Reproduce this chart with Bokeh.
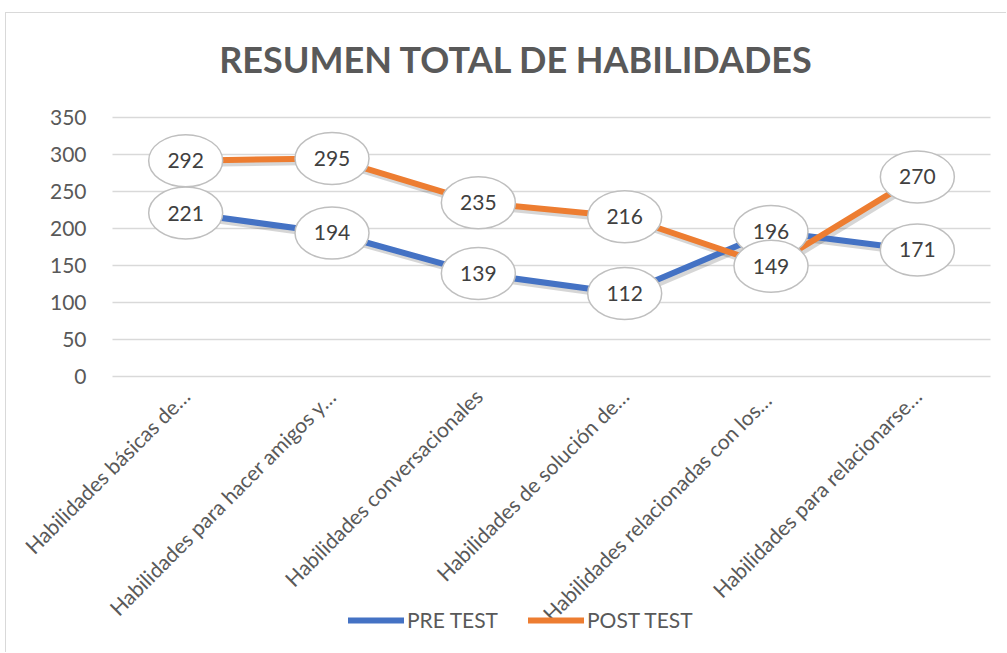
from bokeh.plotting import figure
from bokeh.models import ColumnDataSource, Legend, LegendItem, Label, Range1d, FixedTicker
from bokeh.transform import dodge
from bokeh.core.properties import value
from bokeh.embed import file_html
from bokeh.resources import INLINE

# ---- data ----
categories = [
    "Habilidades básicas de…",
    "Habilidades para hacer amigos y…",
    "Habilidades conversacionales",
    "Habilidades de solución de…",
    "Habilidades  relacionadas con los…",
    "Habilidades para relacionarse…",
]
pre_test = [221, 194, 139, 112, 196, 171]
post_test = [292, 295, 235, 216, 149, 270]
series_names = ["PRE TEST", "POST TEST"]
y_ticks = [0, 50, 100, 150, 200, 250, 300, 350]
title_text = "RESUMEN TOTAL DE HABILIDADES"

FONT = "Lato"
BLUE = "#4472C4"
ORANGE = "#ED7D31"
GREY_TXT = "#595959"

idx = list(range(len(categories)))
src_pre = ColumnDataSource(dict(x=idx, y=pre_test, t=[str(v) for v in pre_test]))
src_post = ColumnDataSource(dict(x=idx, y=post_test, t=[str(v) for v in post_test]))

# the frame covers the whole canvas; the plot area is -0.5..5.5 x 0..350 inside it
X0, X1 = -0.5, len(categories) - 0.5
p = figure(
    width=1001, height=640,
    x_range=Range1d(-1.2244, 5.616),
    y_range=Range1d(-375.6, 491.3),
    output_backend="svg", toolbar_location=None,
    min_border_left=0, min_border_right=0,
    min_border_top=0, min_border_bottom=0,
)
p.styles = {"margin-left": "5px", "margin-top": "12px",
            "border-left": "1px solid #d9d9d9", "border-top": "1px solid #d9d9d9"}
p.outline_line_color = None
p.xgrid.grid_line_color = None
p.ygrid.grid_line_color = "#D9D9D9"
p.ygrid.grid_line_width = 1.5
p.ygrid.cross_bounds = (X0, X1)

p.yaxis.ticker = FixedTicker(ticks=y_ticks)
p.yaxis.fixed_location = X0
p.yaxis.axis_line_color = None
p.yaxis.major_tick_line_color = None
p.yaxis.minor_tick_line_color = None
p.yaxis.major_label_text_font = FONT
p.yaxis.major_label_text_font_size = "21px"
p.yaxis.major_label_text_color = GREY_TXT
p.yaxis.major_label_standoff = 20

p.xaxis.ticker = FixedTicker(ticks=idx)
p.xaxis.major_label_overrides = {i: c for i, c in zip(idx, categories)}
p.xaxis.fixed_location = 0
p.xaxis.axis_line_color = None
p.xaxis.major_tick_line_color = None
p.xaxis.minor_tick_line_color = None
p.xaxis.major_label_orientation = 0.785398
p.xaxis.major_label_text_font = FONT
p.xaxis.major_label_text_font_size = "21px"
p.xaxis.major_label_text_color = GREY_TXT
p.xaxis.major_label_standoff = 10

# shadows
for src in (src_pre, src_post):
    p.line(dodge("x", 0.015, range=p.x_range), dodge("y", -4, range=p.y_range), source=src,
           line_color="#000000", line_alpha=0.16, line_width=7, line_join="round", line_cap="round")

r_pre = p.line("x", "y", source=src_pre, line_color=BLUE, line_width=6, line_join="round", line_cap="round")
r_post = p.line("x", "y", source=src_post, line_color=ORANGE, line_width=6, line_join="round", line_cap="round")

for src in (src_pre, src_post):
    p.ellipse("x", "y", width=74, height=52, width_units="screen", height_units="screen", source=src,
              fill_color="white", line_color="#BFBFBF", line_width=1.5)
    p.text("x", "y", text="t", source=src, text_align="center", text_baseline="middle",
           text_font=value(FONT), text_font_size="21px", text_color="#404040")

p.add_layout(Label(x=2.261, y=429, text=title_text,
                   text_font=FONT, text_font_style="bold", text_font_size="36px",
                   text_color=GREY_TXT, text_align="center", text_baseline="middle"))

legend = Legend(
    items=[LegendItem(label=series_names[0], renderers=[r_pre]),
           LegendItem(label=series_names[1], renderers=[r_post])],
    orientation="horizontal", location=(342, 21),
    glyph_width=56, glyph_height=20, label_height=20, label_standoff=3, spacing=30,
    padding=0, margin=0, border_line_color=None, background_fill_alpha=0,
    label_text_font=FONT, label_text_font_size="21px", label_text_color=GREY_TXT,
)
p.add_layout(legend)

open("out.html", "w").write(file_html(p, INLINE))
